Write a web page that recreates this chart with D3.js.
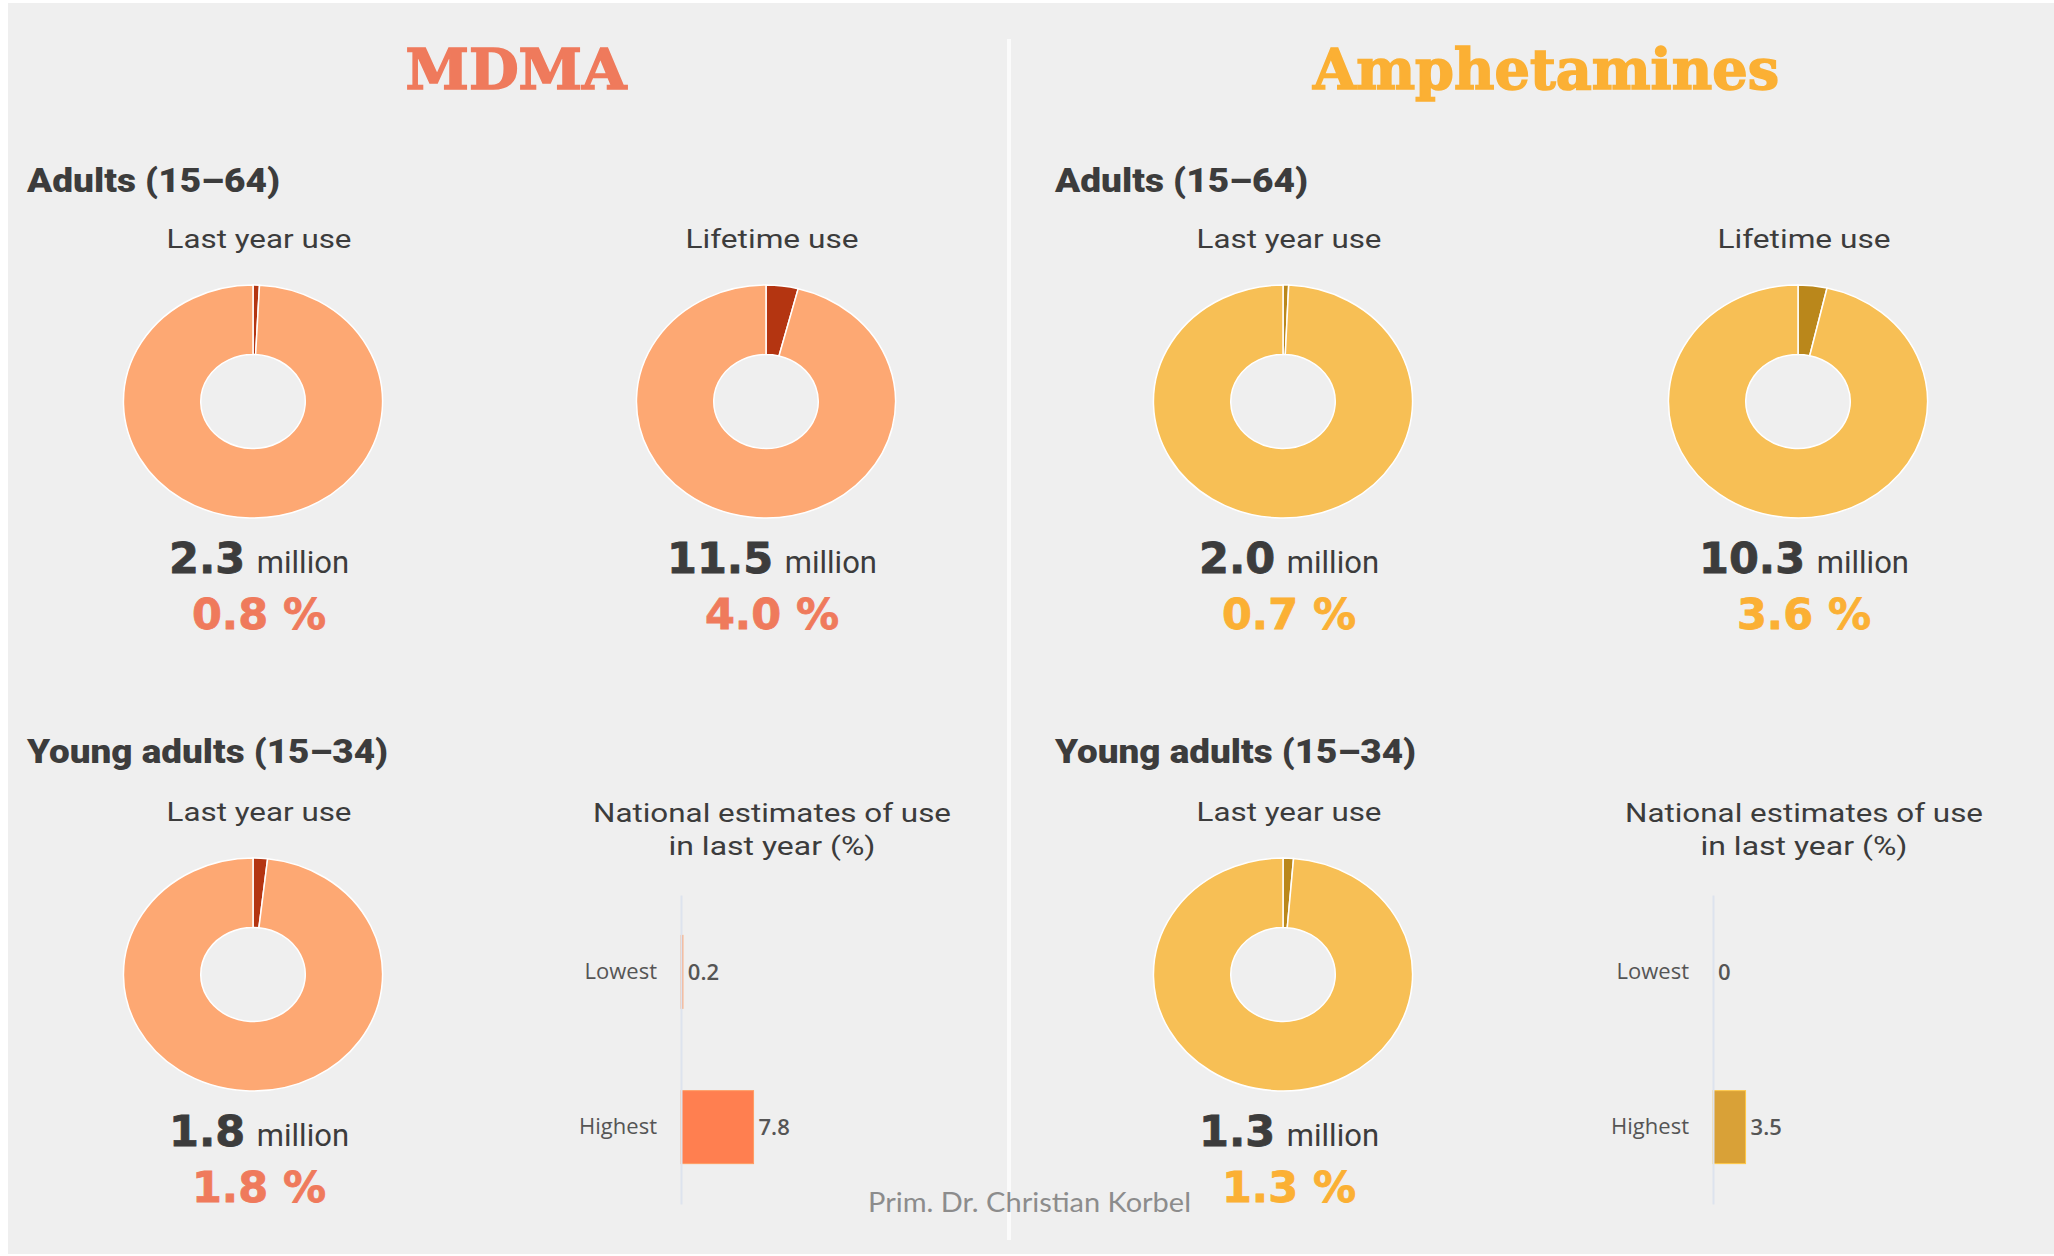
<!DOCTYPE html>
<html>
<head>
<title>MDMA and Amphetamines</title>
<meta charset="utf-8">
<script src="https://cdn.jsdelivr.net/npm/d3@7"></script>
<style type="text/css">
	body{ margin: 0; background: #ffffff; }
	svg text{ fill: #3c3c3c; }
</style>
</head>
<body>
<div id="chart"></div>
<script type="text/javascript">
/* data */
var drugs = ["MDMA", "Amphetamines"];
var adults_last_year_million = [2.3, 2.0];
var adults_last_year_pct = [0.8, 0.7];
var adults_lifetime_million = [11.5, 10.3];
var adults_lifetime_pct = [4.0, 3.6];
var young_last_year_million = [1.8, 1.3];
var young_last_year_pct = [1.8, 1.3];
var estimate_categories = ["Lowest", "Highest"];
var mdma_estimates = [0.2, 7.8];
var amph_estimates = [0, 3.5];
var group_labels = ["Adults (15\u201364)", "Young adults (15\u201334)"];
var use_labels = ["Last year use", "Lifetime use"];
var estimate_title = ["National estimates of use", "in last year (%)"];
var footer = "Prim. Dr. Christian Korbel";

/* colours per drug */
var title_color = ["#ef7a5c", "#fbb034"];
var pie_main = ["#fda873", "#f7bf55"];
var pie_slice = ["#b43511", "#ba871b"];
var bar_color = ["#ff7f50", "#d9a137"];

var W = 2054, H = 1256;
var svg = d3.select("#chart").append("svg").attr("width", W).attr("height", H);

svg.append("rect").attr("x", 8).attr("y", 3).attr("width", W - 8).attr("height", H - 5).attr("fill", "#efefef");
svg.append("rect").attr("x", 1007).attr("y", 39).attr("width", 4).attr("height", 1201).attr("fill", "#fbfbfb");

/* stretch text to the width measured on the picture */
function fit(sel, w){
	return sel.attr("textLength", w).attr("lengthAdjust", "spacingAndGlyphs");
}

var cols = [[259, 772], [1289, 1804]];
var head_x = [27, 1055];
var title_x = [516, 1546], title_w = [221, 466];
var row_dy = 573;

function draw_donut(cx, cy, pct, d){
	var pie = d3.pie().sort(null).value(function(v){ return v; });
	var arc = d3.arc().innerRadius(47).outerRadius(116.5);
	svg.append("g").attr("transform", "translate(" + cx + "," + cy + ") scale(1.112,1)")
		.selectAll("path").data(pie([pct, 100 - pct])).enter().append("path")
		.attr("d", arc)
		.attr("fill", function(s, i){ return i == 0 ? pie_slice[d] : pie_main[d]; })
		.attr("stroke", "#ffffff").attr("stroke-width", 1.5)
		.attr("vector-effect", "non-scaling-stroke");
}

function draw_block(cx, y0, label, million, pct, d){
	fit(svg.append("text").attr("x", cx).attr("y", y0 + 248).attr("text-anchor", "middle")
		.style("font", "400 25px Roboto").text(label), label == "Lifetime use" ? 173 : 185);
	draw_donut(cx - 6, y0 + 401.5, pct, d);
	var t = svg.append("text").attr("x", cx).attr("y", y0 + 573).attr("text-anchor", "middle");
	t.append("tspan").style("font", "bold 43px 'DejaVu Sans'").style("stroke", "#3c3c3c").style("stroke-width", 0.8).text(million.toFixed(1));
	t.append("tspan").attr("dx", 4).style("font", "400 31px Roboto").text(" million");
	svg.append("text").attr("x", cx).attr("y", y0 + 629).attr("text-anchor", "middle")
		.style("font", "bold 43px 'DejaVu Sans'").style("fill", title_color[d])
		.style("stroke", title_color[d]).style("stroke-width", 0.8)
		.text(pct.toFixed(1) + " %");
}

function draw_estimates(cx, vals, d){
	var ax = cx - 91;
	svg.append("text").attr("x", cx).attr("y", 822).attr("text-anchor", "middle")
		.style("font", "400 26px Roboto").call(fit, 358).text(estimate_title[0]);
	svg.append("text").attr("x", cx).attr("y", 855).attr("text-anchor", "middle")
		.style("font", "400 26px Roboto").call(fit, 207).text(estimate_title[1]);
	var y = d3.scaleBand().domain(estimate_categories).range([895, 1204])
		.paddingInner(0.53).paddingOuter(0.26);
	var x = d3.scaleLinear().domain([0, 10]).range([0, 93]);
	var g = svg.append("g").attr("transform", "translate(" + ax + ",0)");
	g.selectAll("rect").data(vals).enter().append("rect")
		.attr("x", 0).attr("y", function(v, i){ return y(estimate_categories[i]); })
		.attr("width", function(v){ return x(v); }).attr("height", y.bandwidth())
		.attr("fill", bar_color[d]).attr("stroke", d3.color(bar_color[d]).brighter(0.6)).attr("stroke-width", 1);
	var axis = g.append("g").call(d3.axisLeft(y).tickSize(0).tickPadding(24).tickSizeOuter(0));
	axis.select(".domain").attr("stroke", "#dde3ee").attr("stroke-width", 2);
	axis.selectAll("text").style("font", "500 22px 'Open Sans'").style("fill", "#555555");
	g.selectAll(".val").data(vals).enter().append("text").attr("class", "val")
		.attr("x", function(v){ return x(v) + 5; })
		.attr("y", function(v, i){ return y(estimate_categories[i]) + y.bandwidth() / 2; })
		.attr("dy", "0.35em")
		.style("font", "600 22px 'Open Sans'").style("fill", "#555555")
		.text(function(v){ return v; });
}

for(var d = 0; d < drugs.length; d++){
	fit(svg.append("text").attr("x", title_x[d]).attr("y", 89).attr("text-anchor", "middle")
		.style("font", "bold 56px 'DejaVu Serif'").style("fill", title_color[d])
		.style("stroke", title_color[d]).style("stroke-width", 1.6).text(drugs[d]), title_w[d]);
	fit(svg.append("text").attr("x", head_x[d]).attr("y", 192)
		.style("font", "900 33px Roboto").text(group_labels[0]), 253);
	fit(svg.append("text").attr("x", head_x[d]).attr("y", 192 + row_dy - 2)
		.style("font", "900 33px Roboto").text(group_labels[1]), 361);
	draw_block(cols[d][0], 0, use_labels[0], adults_last_year_million[d], adults_last_year_pct[d], d);
	draw_block(cols[d][1], 0, use_labels[1], adults_lifetime_million[d], adults_lifetime_pct[d], d);
	draw_block(cols[d][0], row_dy, use_labels[0], young_last_year_million[d], young_last_year_pct[d], d);
	draw_estimates(cols[d][1], d == 0 ? mdma_estimates : amph_estimates, d);
}

fit(svg.append("text").attr("x", 868).attr("y", 1212)
	.style("font", "400 27px Lato").style("fill", "#8c8c8c").text(footer), 323);
</script>
</body>
</html>
